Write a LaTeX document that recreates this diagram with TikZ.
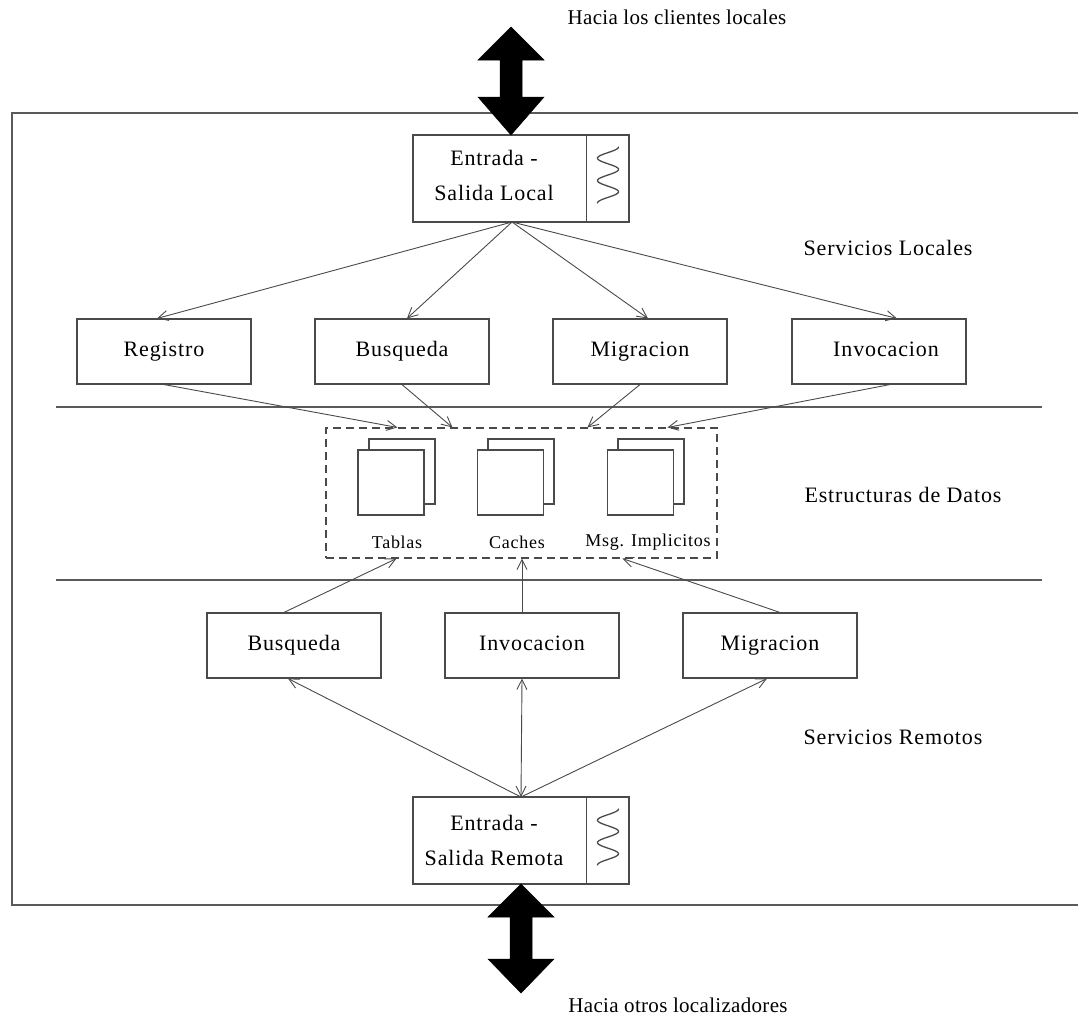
\documentclass[tikz,border=0pt]{standalone}
\usepackage{fontspec}
\setmainfont{Liberation Serif}
\newfontfamily\spacedserif[LetterSpace=4]{Liberation Serif}
\newfontfamily\lightspaced[LetterSpace=1.5]{Liberation Serif}
\usetikzlibrary{arrows.meta,calc}

\definecolor{linegray}{HTML}{4A4A4A}
\definecolor{framegray}{HTML}{5A5A5A}

\tikzset{
  svcbox/.style={draw=linegray, line width=1.1pt, rectangle, minimum width=174pt,
    minimum height=65pt, inner sep=0pt, text height=15pt, text depth=5pt,
    font=\spacedserif\fontsize{22}{26}\selectfont},
  iobox/.style={draw=linegray, line width=1.1pt, rectangle, minimum width=216pt,
    minimum height=87pt, inner sep=0pt},
  iotext/.style={align=center, font=\spacedserif\fontsize{22}{35}\selectfont, inner sep=0pt},
  page/.style={draw=linegray, line width=1.1pt, fill=white, minimum width=66pt,
    minimum height=65pt, inner sep=0pt},
  smalllabel/.style={font=\spacedserif\fontsize{18}{21}\selectfont, inner sep=0pt},
  layerlabel/.style={font=\spacedserif\fontsize{22}{26}\selectfont, inner sep=0pt},
  outlabel/.style={font=\lightspaced\fontsize{21}{25}\selectfont, inner sep=0pt},
  conn/.style={draw=linegray, line width=0.9pt, -{Straight Barb[length=10pt,width=10pt,line width=0.9pt]}},
  conn2/.style={draw=linegray, line width=0.9pt,
    {Straight Barb[length=10pt,width=10pt,line width=0.9pt]}-{Straight Barb[length=10pt,width=10pt,line width=0.9pt]}},
  sep/.style={draw=framegray, line width=1.6pt},
  wave/.style={draw=linegray, line width=1.3pt, line cap=round},
  bigarrow/.style={fill=black, draw=black, line width=0.5pt, line join=miter}
}

\begin{document}
\begin{tikzpicture}[x=1pt, y=-1pt]
\useasboundingbox (0,0) rectangle (1078,1020);

% outer frame, open on the right side
\draw[sep] (1078,113) -- (12,113) -- (12,905) -- (1078,905);

% layer separators
\draw[sep] (56,407) -- (1042,407);
\draw[sep] (56,580) -- (1042,580);

% local input/output module
\node[iobox] (ioL) at (521,178.5) {};
\draw[draw=linegray, line width=1.1pt] ([xshift=-43pt]ioL.north east) -- ([xshift=-43pt]ioL.south east);
\node[iotext] (ioLtxt) at (494,175) {Entrada -\\Salida Local};
\draw[wave] plot[domain=0:900, samples=90] ({608+10.5*cos(\x)}, {147+0.0622*\x});

% remote input/output module
\node[iobox] (ioR) at (521,840.5) {};
\draw[draw=linegray, line width=1.1pt] ([xshift=-43pt]ioR.north east) -- ([xshift=-43pt]ioR.south east);
\node[iotext] (ioRtxt) at (494,840) {Entrada -\\Salida Remota};
\draw[wave] plot[domain=0:900, samples=90] ({608+10.5*cos(\x)}, {809+0.0622*\x});

% hub points where the connectors meet
\coordinate (lhub) at (512,222);
\coordinate (rhub) at (521,797);

% big double arrows to the outside
\filldraw[bigarrow] (511,27) -- (544,60) -- (522,60) -- (522,97) -- (544,97) -- (511,135)
  -- (478,97) -- (500,97) -- (500,60) -- (478,60) -- cycle;
\filldraw[bigarrow] (521,884) -- (554,917) -- (532,917) -- (532,959) -- (554,959) -- (521,993)
  -- (488,959) -- (510,959) -- (510,917) -- (488,917) -- cycle;
\node[outlabel] (toplbl) at (677,17) {Hacia los clientes locales};
\node[outlabel] (botlbl) at (678,1005) {Hacia otros localizadores};

% local services
\node[svcbox] (lreg) at (164,351.5) {Registro};
\node[svcbox] (lbus) at (402,351.5) {Busqueda};
\node[svcbox] (lmig) at (640,351.5) {Migracion};
\node[svcbox] (linv) at (879,351.5) {\hspace*{14pt}Invocacion};
\node[layerlabel] (lsl) at (888,248) {Servicios Locales};

% data structures
\node[draw=linegray, line width=1.1pt, dash pattern=on 8pt off 5pt, rectangle,
  minimum width=391pt, minimum height=130pt, inner sep=0pt] (ds) at (521.5,493) {};
\node[page] (tabB) at (402,471.5) {};
\node[page] (tabF) at (391,482.5) {};
\node[page] (cacB) at (521,471.5) {};
\node[page] (cacF) at (510.5,482.5) {};
\node[page] (msgB) at (651,471.5) {};
\node[page] (msgF) at (640.5,482.5) {};
\node[smalllabel] (tabL) at (397,542) {Tablas};
\node[smalllabel] (cacL) at (517,542) {Caches};
\node[smalllabel] (msgL) at (648,542) {Msg. Implicitos};
\node[layerlabel] (lsd) at (903,495) {Estructuras de Datos};

% remote services
\node[svcbox] (rbus) at (294,645.5) {Busqueda};
\node[svcbox] (rinv) at (532,645.5) {Invocacion};
\node[svcbox] (rmig) at (770,645.5) {Migracion};
\node[layerlabel] (lsr) at (893,737) {Servicios Remotos};

% local module to local services
\draw[conn] (lhub) -- ([xshift=-7pt]lreg.north);
\draw[conn] (lhub) -- ([xshift=5pt]lbus.north);
\draw[conn] (lhub) -- ([xshift=8pt]lmig.north);
\draw[conn] (lhub) -- ([xshift=18pt]linv.north);

% local services to data structures
\draw[conn] (lreg.south) -- ([xshift=72pt]ds.north west);
\draw[conn] (lbus.south) -- ([xshift=127pt]ds.north west);
\draw[conn] (lmig.south) -- ([xshift=262pt]ds.north west);
\draw[conn] ([xshift=11pt]linv.south) -- ([xshift=342pt]ds.north west);

% remote services to data structures
\draw[conn] ([xshift=-10pt]rbus.north) -- ([xshift=71pt]ds.south west);
\draw[conn] ([xshift=-10pt]rinv.north) -- ([xshift=-10pt]rinv.north |- ds.south);
\draw[conn] ([xshift=10pt]rmig.north) -- ([xshift=297pt]ds.south west);

% remote module to remote services
\draw[conn] (rhub) -- ([xshift=-6pt]rbus.south);
\draw[conn2] (rhub) -- ([xshift=-10pt]rinv.south);
\draw[conn] (rhub) -- ([xshift=-3pt]rmig.south);
\end{tikzpicture}
\end{document}
